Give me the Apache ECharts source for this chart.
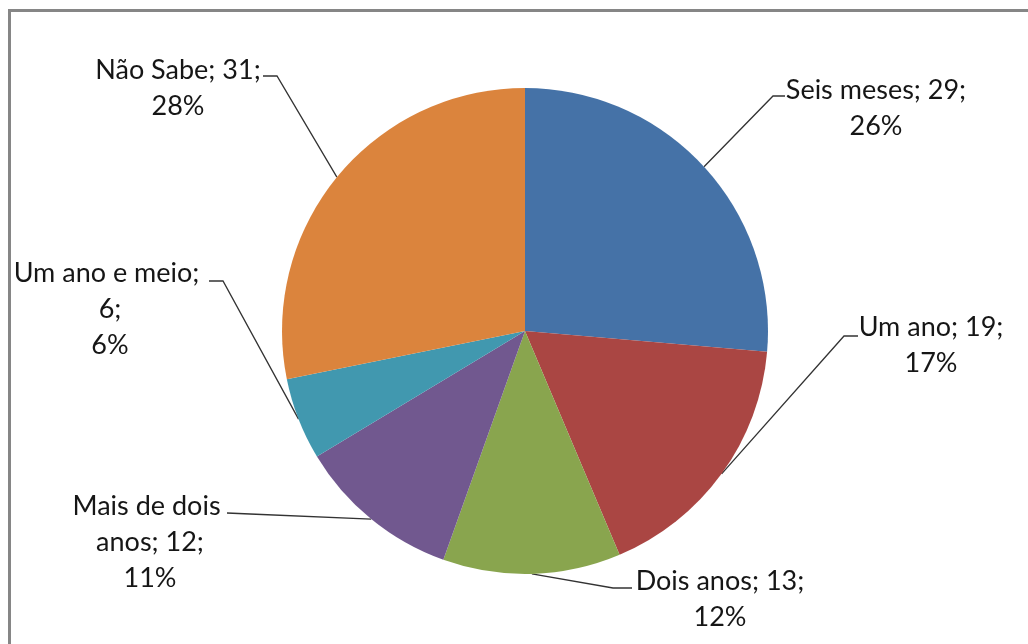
<!DOCTYPE html>
<html>
<head>
<meta charset="utf-8">
<script src="https://cdn.jsdelivr.net/npm/echarts@6/dist/echarts.min.js"></script>
<style>
  html, body { margin: 0; padding: 0; background: #fff; }
  #chart { width: 1028px; height: 644px; }
</style>
</head>
<body>
<div id="chart"></div>
<script>
// Survey answers: time span per category and number of answers
const categories = ['Seis meses', 'Um ano', 'Dois anos', 'Mais de dois anos', 'Um ano e meio', 'Não Sabe'];
const counts = [29, 19, 13, 12, 6, 31];
const sliceColors = ['#4572A7', '#AA4643', '#89A54E', '#71588F', '#4198AF', '#DB843D'];

// Label blocks: centre x, top y, wrap width, leader elbow and end point
const labelSpots = [
  { x: 876, y: 72,  wrap: null, elbow: [773, 96],  end: [785, 96] },
  { x: 931, y: 309, wrap: null, elbow: [844, 336], end: [858, 336] },
  { x: 720, y: 563, wrap: null, elbow: [613, 588], end: [632, 588] },
  { x: 150, y: 488, wrap: 165,  elbow: [250, 514], end: [227, 513] },
  { x: 110, y: 255, wrap: 200,  elbow: [223, 281], end: [209, 281] },
  { x: 178, y: 52,  wrap: null, elbow: [277, 76],  end: [263, 76] }
];

const chart = echarts.init(document.getElementById('chart'), null, { renderer: 'canvas' });

const pieData = categories.map((name, i) => {
  const item = { name: name, value: counts[i], itemStyle: { color: sliceColors[i] } };
  if (labelSpots[i].wrap) {
    item.label = { width: labelSpots[i].wrap, overflow: 'break' };
  }
  return item;
});

chart.setOption({
  animation: false,
  backgroundColor: '#ffffff',
  graphic: [{
    type: 'rect',
    shape: { x: 9.5, y: 10.5, width: 1100, height: 700 },
    style: { fill: null, stroke: '#868686', lineWidth: 3 },
    silent: true
  }],
  series: [{
    type: 'pie',
    center: [525, 331],
    radius: 243,
    startAngle: 90,
    clockwise: true,
    avoidLabelOverlap: false,
    percentPrecision: 0,
    emphasis: { disabled: true },
    itemStyle: { borderWidth: 0 },
    label: {
      show: true,
      position: 'outside',
      formatter: '{b}; {c};\n{d}%',
      fontFamily: 'Lato, sans-serif',
      fontSize: 27,
      lineHeight: 36,
      color: '#161616',
      align: 'center'
    },
    labelLine: {
      show: true,
      length: 20,
      length2: 10,
      lineStyle: { color: '#333333', width: 1.3 }
    },
    labelLayout: function (params) {
      const spot = labelSpots[params.dataIndex];
      const pts = params.labelLinePoints;
      return {
        x: spot.x,
        y: spot.y,
        align: 'center',
        verticalAlign: 'top',
        labelLinePoints: [pts[0], spot.elbow, spot.end]
      };
    },
    data: pieData
  }]
});
</script>
</body>
</html>
